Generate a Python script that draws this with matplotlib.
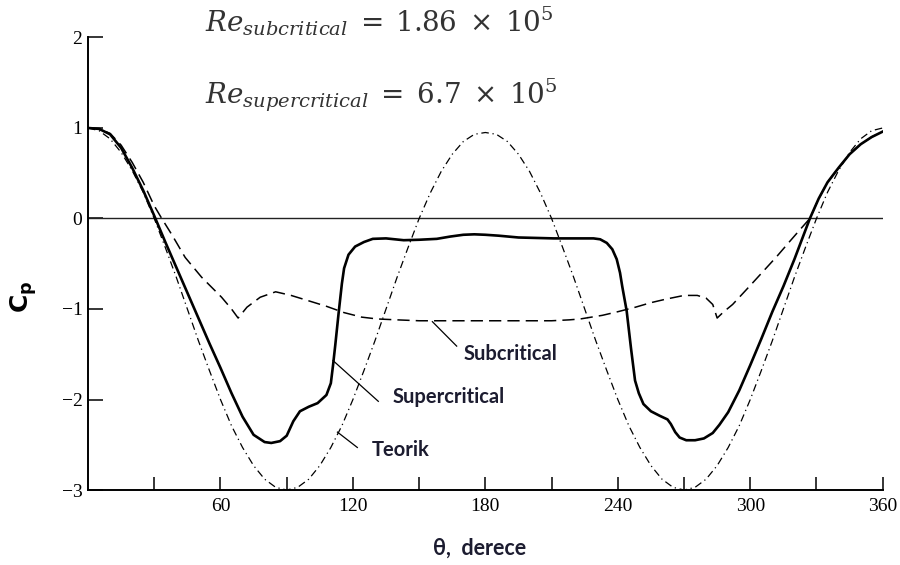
import matplotlib
matplotlib.use('Agg')
import matplotlib.pyplot as plt

# supercritical (solid)
sup_theta = [0, 5, 10, 15, 20, 25, 30, 35, 40, 45, 50, 55, 60, 65, 70, 75, 80, 83, 87, 90,
             93, 96, 100, 104, 108, 110, 111, 112, 113.5, 115, 116, 118, 121, 125, 129, 135,
             143, 150, 158, 164, 170, 175, 180, 186, 195, 203, 211, 220, 229, 232, 235, 237.5,
             239.5, 241, 242, 244, 246, 247.8, 249.5, 251.6, 255, 259, 262.5, 264, 266, 268,
             271, 275, 279, 283, 286, 290, 295, 300, 305, 310, 315, 320, 327, 331, 335, 340,
             345, 350, 355, 360]
sup_cp = [1.0, 0.99, 0.93, 0.78, 0.56, 0.31, 0.03, -0.26, -0.54, -0.82, -1.1, -1.38, -1.65,
          -1.93, -2.19, -2.39, -2.47, -2.48, -2.46, -2.40, -2.24, -2.13, -2.08, -2.04, -1.95,
          -1.82, -1.62, -1.40, -1.05, -0.72, -0.55, -0.40, -0.31, -0.26, -0.225, -0.22, -0.24,
          -0.235, -0.225, -0.2, -0.18, -0.175, -0.18, -0.19, -0.21, -0.215, -0.22, -0.22, -0.22,
          -0.23, -0.27, -0.34, -0.45, -0.60, -0.75, -1.02, -1.44, -1.79, -1.93, -2.05, -2.13,
          -2.18, -2.22, -2.27, -2.36, -2.42, -2.45, -2.45, -2.43, -2.37, -2.28, -2.14, -1.90,
          -1.62, -1.33, -1.03, -0.75, -0.45, 0.0, 0.22, 0.40, 0.56, 0.71, 0.82, 0.90, 0.96]

# subcritical (dashed)
sub_theta = [0, 5, 10, 15, 20, 25, 30, 33.4, 38, 44, 51.5, 60.5, 65, 68, 72, 78, 85, 92, 100,
             108, 116, 124, 131, 140, 150, 160, 170, 180, 190, 200, 210, 218, 223, 233, 240,
             248, 255, 262, 270, 276, 280, 283, 285, 288, 292, 300, 306, 312, 318, 323, 327,
             331, 335, 340, 345, 350, 355, 360]
sub_cp = [1.0, 0.99, 0.94, 0.81, 0.62, 0.40, 0.14, 0.0, -0.18, -0.43, -0.65, -0.87, -1.0,
          -1.10, -0.98, -0.87, -0.81, -0.85, -0.91, -0.97, -1.04, -1.09, -1.11, -1.12, -1.13,
          -1.13, -1.13, -1.13, -1.13, -1.13, -1.13, -1.12, -1.11, -1.07, -1.03, -0.98, -0.93,
          -0.89, -0.85, -0.85, -0.88, -0.95, -1.10, -1.03, -0.95, -0.74, -0.58, -0.42, -0.25,
          -0.11, 0.0, 0.22, 0.40, 0.56, 0.71, 0.82, 0.90, 0.96]

# teorik (dash-dot), 0..180, the other half is its mirror
teo_half = [1.0, 0.97, 0.88, 0.73, 0.53, 0.29, 0.0, -0.32, -0.65, -1.0, -1.35, -1.68, -2.0,
            -2.29, -2.53, -2.73, -2.88, -2.97, -3.0, -2.97, -2.88, -2.73, -2.53, -2.29, -2.0,
            -1.68, -1.35, -1.0, -0.65, -0.32, 0.0, 0.28, 0.52, 0.71, 0.85, 0.93, 0.95]
teo_cp = teo_half + teo_half[-2::-1]
teo_theta = [5 * i for i in range(len(teo_cp))]

xtick_pos = list(range(30, 361, 30))
xtick_lab = ['' if t % 60 else str(t) for t in xtick_pos]
ytick_pos = [-3, -2, -1, 0, 1, 2]
ytick_lab = ['\u22123', '\u22122', '\u22121', '0', '1', '2']

fig = plt.figure(figsize=(9, 5.65), dpi=100)
ax = fig.add_axes([0.0978, 0.1327, 0.883, 0.801])

ax.axhline(0, color='#222222', lw=1.0)
ax.plot(teo_theta, teo_cp, color='black', lw=0.9, dashes=(6, 3, 1, 3))
ax.plot(sub_theta, sub_cp, color='black', lw=1.1, dashes=(8, 4))
ax.plot(sup_theta, sup_cp, color='black', lw=1.9)

ax.set_xlim(0, 360)
ax.set_ylim(-3, 2)
for s in ['top', 'right']:
    ax.spines[s].set_visible(False)
for s in ['left', 'bottom']:
    ax.spines[s].set_linewidth(1.4)
ax.set_xticks(xtick_pos)
ax.set_xticklabels(xtick_lab, family='Liberation Serif', fontsize=14)
ax.set_yticks(ytick_pos)
ax.set_yticklabels(ytick_lab, family='Liberation Serif', fontsize=14)
ax.tick_params(axis='x', direction='in', length=9.5, width=1.1, pad=6)
ax.tick_params(axis='y', direction='in', length=11, width=1.1, pad=4)

# leader lines and labels
tc = '#1c1c30'
lab_font = dict(family='Lato', weight='bold', fontsize=14.5, color=tc, va='center', ha='left')
ax.plot([156, 167], [-1.14, -1.41], color='black', lw=0.9)
ax.text(170, -1.5, 'Subcritical', **lab_font)
ax.plot([111, 131.5], [-1.57, -2.02], color='black', lw=0.9)
ax.text(138, -1.97, 'Supercritical', **lab_font)
ax.plot([113, 122], [-2.36, -2.53], color='black', lw=0.9)
ax.text(128.5, -2.56, 'Teorik', **lab_font)

fig.text(205 / 900, 1 - 32 / 565, r'$Re_{subcritical}\;=\;1.86\;\times\;10^{5}$',
         fontsize=20, color='#333333', va='baseline', ha='left', math_fontfamily='dejavuserif')
fig.text(205 / 900, 1 - 103 / 565, r'$Re_{supercritical}\;=\;6.7\;\times\;10^{5}$',
         fontsize=20, color='#333333', va='baseline', ha='left', math_fontfamily='dejavuserif')

fig.text(24 / 900, 1 - 297 / 565, r'$\mathbf{C_p}$', rotation=90, fontsize=18,
         va='center', ha='center', color='black', math_fontfamily='dejavusans')
fig.text(480 / 900, 1 - 548 / 565, '\u03b8,  derece', family='Lato', weight='bold',
         fontsize=15.5, va='center', ha='center', color=tc)

fig.savefig('out.png', dpi=100)
